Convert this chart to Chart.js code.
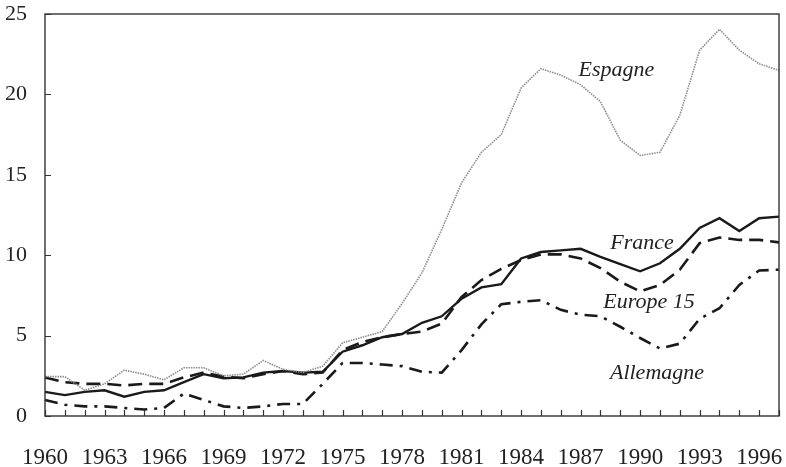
<!DOCTYPE html>
<html>
<head>
<meta charset="utf-8">
<script src="https://cdn.jsdelivr.net/npm/chart.js@4/dist/chart.umd.min.js"></script>
<style>
  html, body { margin: 0; padding: 0; background: #fff; }
  #wrap { width: 786px; height: 467px; }
</style>
</head>
<body>
<div id="wrap"><canvas id="chart" width="786" height="467"></canvas></div>
<script>
const years = [];
for (let y = 1960; y <= 1997; y++) years.push(y);

const yTicks = [0, 5, 10, 15, 20, 25];

const france = [1.5, 1.3, 1.5, 1.6, 1.2, 1.5, 1.6, 2.1, 2.6, 2.35, 2.4, 2.7, 2.8, 2.7, 2.75, 4.0, 4.4, 4.9,
  5.1, 5.8, 6.2, 7.3, 8.0, 8.2, 9.8, 10.2, 10.3, 10.4, 9.9, 9.45, 9.0, 9.5, 10.4, 11.7, 12.3, 11.5, 12.3, 12.4];

const europe15 = [2.4, 2.1, 2.0, 2.0, 1.9, 2.0, 2.0, 2.4, 2.7, 2.45, 2.35, 2.6, 2.8, 2.6, 2.7, 4.1, 4.6, 4.9,
  5.1, 5.25, 5.75, 7.4, 8.45, 9.15, 9.7, 10.05, 10.05, 9.8, 9.2, 8.35, 7.75, 8.15, 9.1, 10.75, 11.1, 10.95, 10.95, 10.8];

const allemagne = [1.0, 0.7, 0.6, 0.6, 0.5, 0.4, 0.5, 1.4, 1.0, 0.6, 0.5, 0.6, 0.75, 0.75, 2.0, 3.3, 3.3, 3.2,
  3.1, 2.75, 2.7, 4.1, 5.7, 6.95, 7.1, 7.2, 6.6, 6.3, 6.2, 5.55, 4.85, 4.2, 4.5, 6.05, 6.7, 8.15, 9.05, 9.1];

const espagne = [2.45, 2.45, 1.6, 2.0, 2.85, 2.6, 2.25, 3.0, 3.0, 2.5, 2.6, 3.45, 2.9, 2.7, 3.1, 4.55, 4.9, 5.25,
  7.0, 8.9, 11.6, 14.5, 16.4, 17.5, 20.4, 21.6, 21.2, 20.6, 19.55, 17.15, 16.2, 16.4, 18.7, 22.75, 24.05, 22.75, 21.9, 21.5];

// series labels, in data coordinates (year, value)
const seriesLabels = [
  { text: 'Espagne', x: 1988.8, y: 21.5 },
  { text: 'France', x: 1990.1, y: 10.75 },
  { text: 'Europe 15', x: 1990.45, y: 7.1 },
  { text: 'Allemagne', x: 1990.85, y: 2.65 }
];

const serif = '"Liberation Serif", "Times New Roman", serif';

// keep tick label overflow from pushing the plot area around
function noPad(scale) {
  scale.paddingLeft = 0;
  scale.paddingRight = 0;
  scale.paddingTop = 0;
  scale.paddingBottom = 0;
}

const framePlugin = {
  id: 'frame',
  afterDatasetsDraw(chart) {
    const { ctx, chartArea: a, scales } = chart;
    ctx.save();
    ctx.strokeStyle = '#333';
    ctx.lineWidth = 1.4;
    ctx.strokeRect(a.left, a.top, a.right - a.left, a.bottom - a.top);

    // inner tick marks
    ctx.lineWidth = 1.2;
    ctx.beginPath();
    years.forEach(function(yr, i) {
      const px = Math.round(scales.x.getPixelForValue(i)) + 0.5;
      ctx.moveTo(px, a.bottom);
      ctx.lineTo(px, a.bottom - 6);
    });
    yTicks.forEach(function(v) {
      const py = Math.round(scales.y.getPixelForValue(v)) + 0.5;
      ctx.moveTo(a.left, py);
      ctx.lineTo(a.left + 6, py);
    });
    ctx.stroke();

    // series names
    ctx.fillStyle = '#222';
    ctx.font = 'italic 22px ' + serif;
    ctx.textAlign = 'center';
    ctx.textBaseline = 'middle';
    seriesLabels.forEach(function(l) {
      const px = scales.x.getPixelForValue(l.x - 1960);
      const py = scales.y.getPixelForValue(l.y);
      ctx.fillText(l.text, px, py);
    });
    ctx.restore();
  }
};

new Chart(document.getElementById('chart').getContext('2d'), {
  type: 'line',
  data: {
    labels: years,
    datasets: [
      {
        label: 'Espagne',
        data: espagne,
        borderColor: '#8c8c8c',
        borderWidth: 1.6,
        borderDash: [1.5, 1],
        pointRadius: 0,
        tension: 0
      },
      {
        label: 'Allemagne',
        data: allemagne,
        borderColor: '#1a1a1a',
        borderWidth: 2.6,
        borderDash: [13, 7, 3, 7],
        pointRadius: 0,
        tension: 0
      },
      {
        label: 'Europe 15',
        data: europe15,
        borderColor: '#1a1a1a',
        borderWidth: 2.6,
        borderDash: [14, 7],
        pointRadius: 0,
        tension: 0
      },
      {
        label: 'France',
        data: france,
        borderColor: '#1a1a1a',
        borderWidth: 2.4,
        pointRadius: 0,
        tension: 0
      }
    ]
  },
  options: {
    responsive: false,
    animation: false,
    layout: { padding: { left: 0, right: 7, top: 14, bottom: 0 } },
    plugins: {
      legend: { display: false },
      tooltip: { enabled: false }
    },
    scales: {
      x: {
        type: 'category',
        offset: false,
        grid: { display: false, drawTicks: false },
        border: { display: false },
        afterFit(scale) { scale.height = 51; noPad(scale); },
        ticks: {
          autoSkip: false,
          maxRotation: 0,
          padding: 28,
          color: '#222',
          font: { family: serif, size: 23 },
          callback(val, i) {
            const yr = years[i];
            return (yr - 1960) % 3 === 0 ? String(yr) : '';
          }
        }
      },
      y: {
        min: 0,
        max: 25,
        afterFit(scale) { scale.width = 45; noPad(scale); },
        afterBuildTicks(scale) {
          scale.ticks = yTicks.map(function(v) { return { value: v }; });
        },
        grid: { display: false, drawTicks: false },
        border: { display: false },
        ticks: {
          padding: 18,
          color: '#222',
          font: { family: serif, size: 22 },
          callback(v) { return String(v); }
        }
      }
    }
  },
  plugins: [framePlugin]
});
</script>
</body>
</html>
